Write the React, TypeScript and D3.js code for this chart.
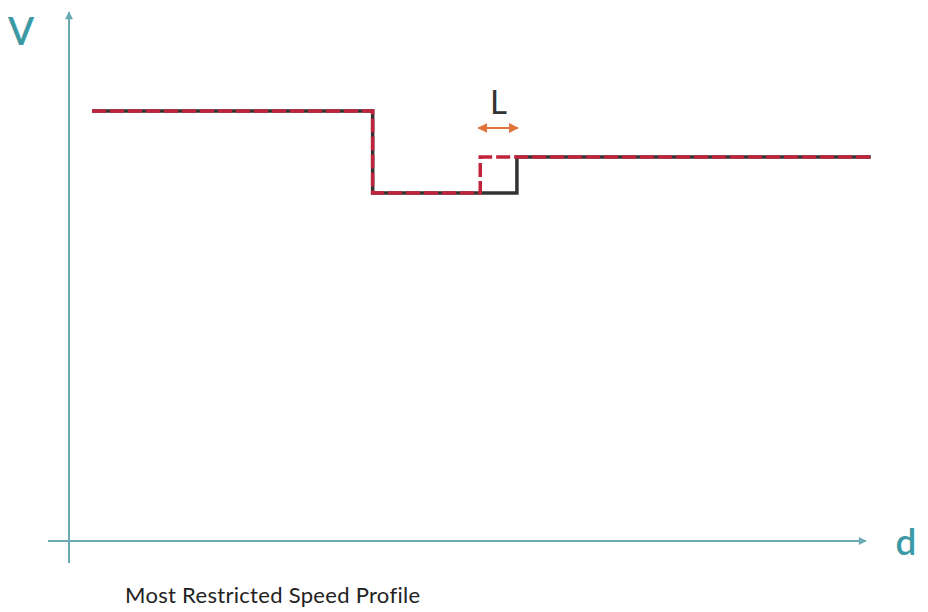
import { useEffect, useRef } from 'react'
import * as d3 from 'd3'

// distance (arbitrary units) and speed (arbitrary units)
const baseDist = [29, 381, 562, 1006]
const baseSpeed = [81.3, 65.8, 72.6, 72.6]
const restrictedDist = [29, 381, 516, 1006]
const restrictedSpeed = [81.3, 65.8, 72.6, 72.6]
const lengthMarker = [516, 562] // the "L" offset between the two step-ups
const caption = 'Most Restricted Speed Profile'

export default function App() {
  const ref = useRef<SVGSVGElement>(null)

  useEffect(() => {
    if (!ref.current) return
    const svg = d3.select(ref.current)
    svg.selectAll('*').remove()

    const x = d3.scaleLinear().domain([0, 1000]).range([69, 866])
    const y = d3.scaleLinear().domain([0, 100]).range([541, 12])

    const axisColor = '#6aabb3'
    const labelColor = '#3c9aa4'
    const font = 'Lato, "Noto Sans", sans-serif'

    const defs = svg.append('defs')
    const marker = (id: string, color: string, w: number, h: number) => {
      defs.append('marker')
        .attr('id', id)
        .attr('viewBox', '0 0 10 10')
        .attr('refX', 9).attr('refY', 5)
        .attr('markerWidth', w).attr('markerHeight', h)
        .attr('markerUnits', 'userSpaceOnUse')
        .attr('orient', 'auto-start-reverse')
        .append('path').attr('d', 'M0,0 L10,5 L0,10 z').attr('fill', color)
    }
    marker('axisArrow', axisColor, 9, 8)
    marker('lArrow', '#e0743a', 10, 10)

    // Axes
    svg.append('line')
      .attr('x1', x(0)).attr('x2', x(0))
      .attr('y1', 563).attr('y2', y(100))
      .attr('stroke', axisColor).attr('stroke-width', 2)
      .attr('marker-end', 'url(#axisArrow)')
    svg.append('line')
      .attr('x1', 48).attr('x2', x(1000))
      .attr('y1', y(0)).attr('y2', y(0))
      .attr('stroke', axisColor).attr('stroke-width', 2)
      .attr('marker-end', 'url(#axisArrow)')

    svg.append('text')
      .attr('x', 21).attr('y', 45)
      .attr('text-anchor', 'middle')
      .style('font-family', font).style('font-size', '38px').style('font-weight', 600)
      .style('fill', labelColor)
      .text('V')
    svg.append('text')
      .attr('x', 906).attr('y', 555)
      .attr('text-anchor', 'middle')
      .style('font-family', font).style('font-size', '37px').style('font-weight', 600)
      .style('fill', labelColor)
      .text('d')

    const stepLine = d3.line<[number, number]>()
      .x(d => x(d[0])).y(d => y(d[1]))
      .curve(d3.curveStepAfter)

    svg.append('path')
      .attr('d', stepLine(baseDist.map((d, i) => [d, baseSpeed[i]] as [number, number])))
      .attr('fill', 'none')
      .attr('stroke', '#333333')
      .attr('stroke-width', 3.5)

    svg.append('path')
      .attr('d', stepLine(restrictedDist.map((d, i) => [d, restrictedSpeed[i]] as [number, number])))
      .attr('fill', 'none')
      .attr('stroke', '#c0243c')
      .attr('stroke-width', 3.5)
      .attr('stroke-dasharray', '14,4')

    // L marker
    const ly = 128
    svg.append('line')
      .attr('x1', x(lengthMarker[0]) - 2).attr('x2', x(lengthMarker[1]) + 1)
      .attr('y1', ly).attr('y2', ly)
      .attr('stroke', '#e0743a').attr('stroke-width', 2)
      .attr('marker-start', 'url(#lArrow)')
      .attr('marker-end', 'url(#lArrow)')
    svg.append('text')
      .attr('x', (x(lengthMarker[0]) + x(lengthMarker[1])) / 2).attr('y', 114)
      .attr('text-anchor', 'middle')
      .style('font-family', font).style('font-size', '33px')
      .style('fill', '#333333')
      .text('L')

    svg.append('text')
      .attr('x', 125).attr('y', 603)
      .style('font-family', font).style('font-size', '22px')
      .style('letter-spacing', '0.3px')
      .style('fill', '#222222')
      .text(caption)
  }, [])

  return (
    <svg
      ref={ref}
      width={928}
      height={612}
      style={{ position: 'absolute', left: 0, top: 0, background: '#fff' }}
    />
  )
}
